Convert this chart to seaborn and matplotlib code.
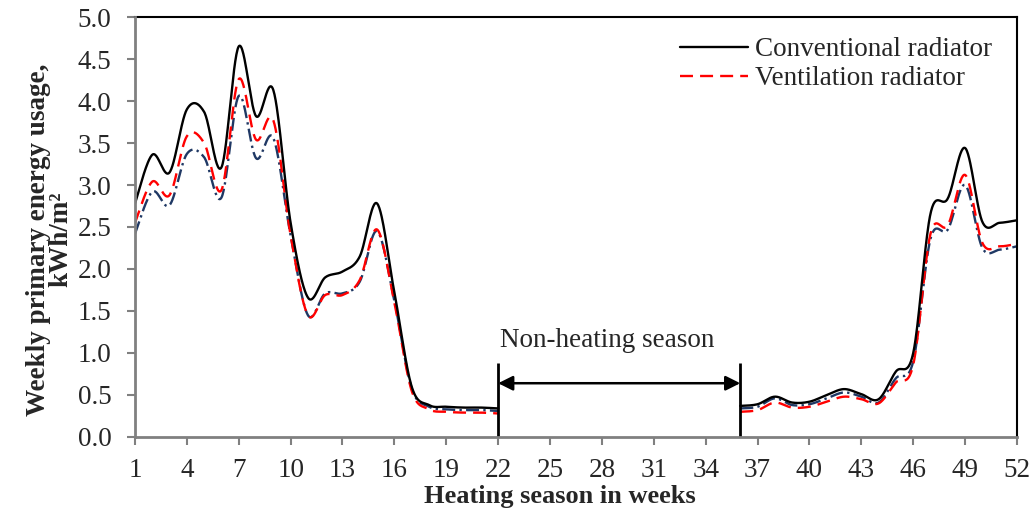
import numpy as np
import pandas as pd
import matplotlib
matplotlib.use("Agg")
import matplotlib.pyplot as plt
import seaborn as sns
from matplotlib.lines import Line2D

# ---------------- data ----------------
weeks_a = [1, 2, 3, 4, 5, 6, 7, 8, 9, 10, 11, 12, 13, 14, 15, 16, 17, 18, 19, 20, 21, 22]
weeks_b = [36, 37, 38, 39, 40, 41, 42, 43, 44, 45, 46, 47, 48, 49, 50, 51, 52]

conv_a = [2.78, 3.36, 3.15, 3.90, 3.87, 3.21, 4.65, 3.82, 4.13, 2.55, 1.66, 1.90, 1.97, 2.15, 2.78,
          1.72, 0.60, 0.38, 0.36, 0.35, 0.35, 0.34]
conv_b = [0.37, 0.39, 0.48, 0.41, 0.42, 0.50, 0.57, 0.51, 0.45, 0.78, 1.00, 2.66, 2.84, 3.44,
          2.56, 2.55, 2.58]

vent_a = [2.55, 3.04, 2.88, 3.58, 3.50, 2.94, 4.26, 3.54, 3.77, 2.40, 1.45, 1.69, 1.69, 1.87, 2.47,
          1.60, 0.55, 0.33, 0.30, 0.29, 0.29, 0.28]
vent_b = [0.30, 0.32, 0.41, 0.35, 0.36, 0.42, 0.48, 0.45, 0.40, 0.65, 0.86, 2.42, 2.52, 3.12,
          2.31, 2.27, 2.30]

third_a = [2.42, 2.92, 2.76, 3.37, 3.33, 2.85, 4.06, 3.32, 3.56, 2.40, 1.45, 1.71, 1.71, 1.85, 2.45,
           1.62, 0.58, 0.36, 0.33, 0.32, 0.32, 0.31]
third_b = [0.34, 0.36, 0.46, 0.38, 0.39, 0.46, 0.53, 0.48, 0.41, 0.70, 0.90, 2.36, 2.47, 3.00,
           2.25, 2.23, 2.27]

series_names = ["Conventional radiator", "Ventilation radiator", "Other"]
x_ticks = list(range(1, 53, 3))
y_ticks = [0.0, 0.5, 1.0, 1.5, 2.0, 2.5, 3.0, 3.5, 4.0, 4.5, 5.0]


# ---------------- smoothing (Excel-like Bezier smoothing) ----------------
def smooth(x, y, n=30):
    x = np.asarray(x, float)
    y = np.asarray(y, float)
    xs, ys = [], []
    m = len(x)
    for i in range(m - 1):
        p0 = np.array([x[max(i - 1, 0)], y[max(i - 1, 0)]])
        p1 = np.array([x[i], y[i]])
        p2 = np.array([x[i + 1], y[i + 1]])
        p3 = np.array([x[min(i + 2, m - 1)], y[min(i + 2, m - 1)]])
        c1 = p1 + (p2 - p0) / 6.0
        c2 = p2 - (p3 - p1) / 6.0
        t = np.linspace(0, 1, n, endpoint=(i == m - 2))[:, None]
        pts = ((1 - t) ** 3) * p1 + 3 * ((1 - t) ** 2) * t * c1 + 3 * (1 - t) * t ** 2 * c2 + t ** 3 * p2
        xs.append(pts[:, 0])
        ys.append(pts[:, 1])
    return np.concatenate(xs), np.concatenate(ys)


rows = []
for name, (ya, yb) in zip(series_names, [(conv_a, conv_b), (vent_a, vent_b), (third_a, third_b)]):
    for seg, (wx, wy) in enumerate([(weeks_a, ya), (weeks_b, yb)]):
        sx, sy = smooth(wx, wy)
        rows.append(pd.DataFrame({"week": sx, "value": sy, "series": name, "segment": seg}))
df = pd.concat(rows, ignore_index=True)

# ---------------- plot ----------------
sns.set_theme(style="white")
plt.rcParams["font.family"] = ["Liberation Serif", "DejaVu Serif"]

fig = plt.figure(figsize=(10.35, 5.08), dpi=100)
ax = fig.add_axes([0.1304, 0.1398, 0.8522, 0.8267])

palette = {"Conventional radiator": "#000000", "Ventilation radiator": "#FF0000", "Other": "#1F3864"}
dashes = {"Conventional radiator": "", "Ventilation radiator": (5.5, 3.0), "Other": (5.5, 1.8, 1.0, 1.8)}

# draw back-to-front: third, ventilation, conventional
order = ["Other", "Ventilation radiator", "Conventional radiator"]
for name in order:
    sub = df[df["series"] == name]
    sns.lineplot(data=sub, x="week", y="value", hue="series", style="series", units="segment",
                 estimator=None, sort=False, palette=palette, dashes=dashes, linewidth=1.7,
                 legend=False, ax=ax)

ax.set_xlim(1, 52)
ax.set_ylim(0, 5)
ax.set_xticks(x_ticks)
ax.set_yticks(y_ticks)
ax.set_yticklabels([f"{v:.1f}" for v in y_ticks])
ax.tick_params(axis="both", which="both", direction="out", length=6, width=1.5, color="#808080",
               labelsize=19.5, bottom=True, left=True)
ax.tick_params(axis="x", pad=9)
ax.tick_params(axis="y", pad=11)

for s in ["left", "bottom"]:
    ax.spines[s].set_color("#808080")
    ax.spines[s].set_linewidth(2)
for s in ["top", "right"]:
    ax.spines[s].set_color("#000000")
    ax.spines[s].set_linewidth(1.5)
ax.spines["left"].set_zorder(5)
ax.spines["bottom"].set_zorder(5)

ax.set_xlabel("Heating season in weeks", fontsize=19, fontweight="bold")
ax.xaxis.set_label_coords(0.482, -0.114)
ax.set_ylabel("Weekly primary energy usage,\nkWh/m²", fontsize=19.5, fontweight="bold",
              linespacing=0.86)
ax.yaxis.set_label_coords(-0.07, 0.47)

# non-heating season annotation
ax.vlines([22, 36], 0, 0.88, colors="black", linewidth=2)
ax.annotate("", xy=(22, 0.64), xytext=(36, 0.64),
            arrowprops=dict(arrowstyle="<|-|>", color="black", lw=1.8, mutation_scale=22,
                            shrinkA=0, shrinkB=0))
ax.text(28.3, 1.15, "Non-heating season", fontsize=19.5, ha="center", va="center")

handles = [Line2D([0], [0], color="#000000", lw=1.7),
           Line2D([0], [0], color="#FF0000", lw=1.7, dashes=(5.5, 3.0))]
ax.legend(handles, series_names[:2], loc="upper left", bbox_to_anchor=(0.618, 0.952),
          frameon=False, fontsize=19.5, handlelength=2.5, handletextpad=0.27, labelspacing=0.15,
          borderpad=0, borderaxespad=0)

fig.savefig("out.png", dpi=100)
